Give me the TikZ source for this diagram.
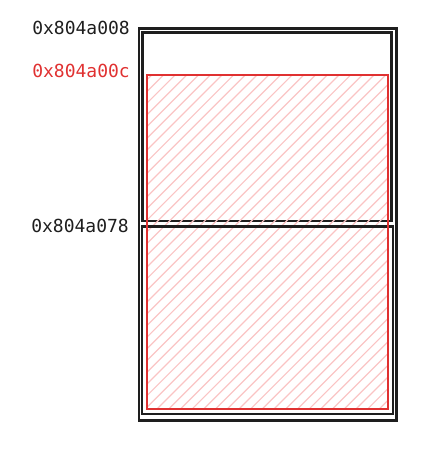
\documentclass[tikz,border=0pt]{standalone}
\usepackage{fontspec}
\setmonofont{DejaVu Sans Mono}
\definecolor{ink}{HTML}{1E1E1E}
\definecolor{redink}{HTML}{E03131}
\definecolor{hatch}{HTML}{FAC4C4}
\tikzset{
  boxline/.style={draw=ink, line width=2.2pt},
  redbox/.style={draw=redink, line width=2.2pt},
  hatchline/.style={draw=hatch, line width=1.2pt},
  addr/.style={font=\ttfamily\fontsize{18}{20}\selectfont, anchor=east, inner sep=0pt},
}
\begin{document}
\begin{tikzpicture}[x=1pt,y=-1pt]
\useasboundingbox (0,0) rectangle (434,451);
% outer frame
\draw[boxline] (139,28.5) rectangle (396.5,420.5);
% first chunk
\draw[boxline] (142.5,32.5) rectangle (391.5,221);
% hatch of the red region
\begin{scope}
  \clip (147,75) rectangle (388,409);
  \foreach \k in {-1,...,51} {
    \draw[hatchline] ({226.7+11.7*\k-460},460) -- ({226.7+11.7*\k-40},40);
  }
\end{scope}
% second chunk
\draw[boxline] (142,226.5) rectangle (393,414);
% red region
\draw[redbox] (147,75) rectangle (388,409);
% labels
\node[addr, text=ink] (a008) at (130,28) {0x804a008};
\node[addr, text=redink] (a00c) at (130,70.5) {0x804a00c};
\node[addr, text=ink] (a078) at (129,226) {0x804a078};
\end{tikzpicture}
\end{document}
